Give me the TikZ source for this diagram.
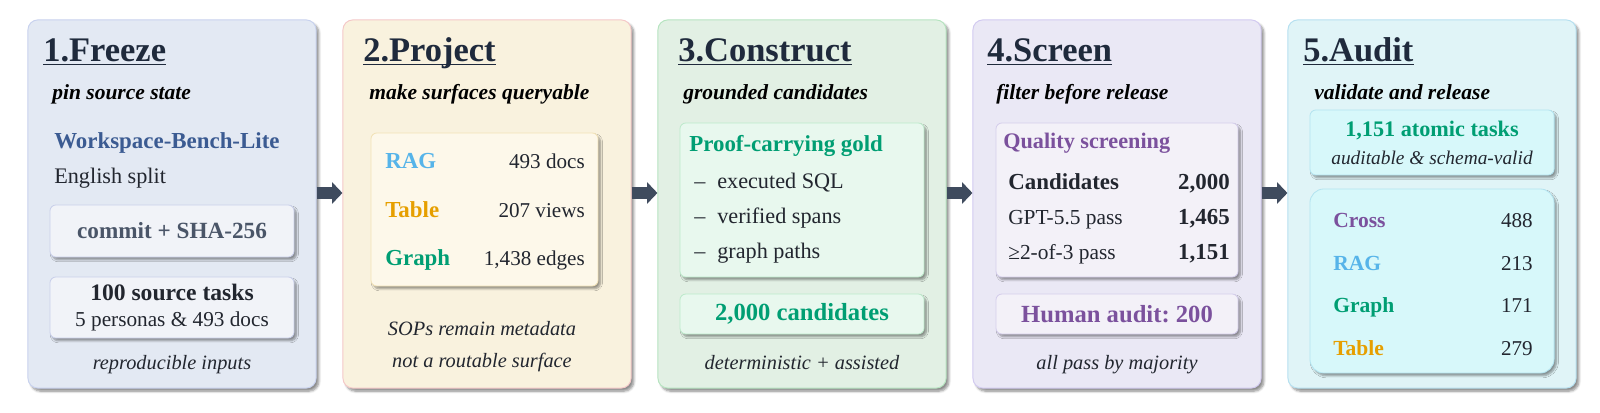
\documentclass[tikz,border=0pt]{standalone}
\usepackage{fontspec}
\setmainfont{Liberation Serif}
\usetikzlibrary{arrows.meta,shadows.blur}

\definecolor{ttlc}{HTML}{1F2A3C}
\definecolor{ink}{HTML}{22262F}
\definecolor{slate}{HTML}{4A5568}
\definecolor{wsblue}{HTML}{3B5B92}
\definecolor{ragc}{HTML}{56B4E9}
\definecolor{tabc}{HTML}{E69F00}
\definecolor{grc}{HTML}{009E73}
\definecolor{purc}{HTML}{7B519D}
\definecolor{arrc}{HTML}{3F4B5E}
% panel fills and lines
\definecolor{fzfill}{HTML}{E3E9F3}\definecolor{fzline}{HTML}{C8D2EE}
\definecolor{pjfill}{HTML}{F9F2DE}\definecolor{pjline}{HTML}{F4C8C8}
\definecolor{cofill}{HTML}{E2F0E4}\definecolor{coline}{HTML}{B6E4C0}
\definecolor{scfill}{HTML}{EAE8F5}\definecolor{scline}{HTML}{D2CAF0}
\definecolor{aufill}{HTML}{E0F4F7}\definecolor{auline}{HTML}{B6E0F0}
% card fills and lines
\definecolor{fzcard}{HTML}{F1F3F8}\definecolor{fzcline}{HTML}{C9CFEA}
\definecolor{pjcard}{HTML}{FDF8EA}\definecolor{pjcline}{HTML}{F2E2B6}
\definecolor{cocard}{HTML}{E8F8EE}\definecolor{cocline}{HTML}{BDEACB}
\definecolor{sccard}{HTML}{F3F1F8}\definecolor{sccline}{HTML}{D4CDEB}
\definecolor{aucard}{HTML}{D7F8FA}\definecolor{aucline}{HTML}{B4E4F0}

\tikzset{
  panel/.style={rounded corners=0.1in, line width=0.7pt, minimum width=2.88in,
    minimum height=3.68in, inner sep=0pt,
    blur shadow={shadow xshift=0.7mm, shadow yshift=-0.8mm, shadow blur radius=0.6mm,
      shadow blur steps=6, shadow opacity=45}},
  card/.style={rounded corners=0.06in, line width=0.6pt, inner sep=0pt, align=center,
    blur shadow={shadow xshift=0.6mm, shadow yshift=-0.7mm, shadow blur radius=0.5mm,
      shadow blur steps=6, shadow opacity=40}},
  ttl/.style={font=\fontsize{24.9}{28}\selectfont\bfseries, text=ttlc, inner sep=0pt, anchor=base west},
  sub/.style={font=\fontsize{15.55}{18}\selectfont\bfseries\itshape, inner sep=0pt, anchor=base west},
  foot/.style={font=\fontsize{14.7}{17}\selectfont\itshape, text=ink, inner sep=0pt, anchor=base},
  lbl/.style={font=\fontsize{16.55}{19}\selectfont\bfseries, inner sep=0pt, anchor=base west},
  txt/.style={font=\fontsize{16.05}{19}\selectfont, text=ink, inner sep=0pt, anchor=base west},
  val/.style={font=\fontsize{15.25}{18}\selectfont, text=ink, inner sep=0pt, anchor=base east},
  bval/.style={font=\fontsize{16.55}{19}\selectfont\bfseries, text=ink, inner sep=0pt, anchor=base east},
  uline/.style={line width=0.8pt, ttlc},
  flow/.style={arrc, line width=0.12in, -{Triangle[length=0.104in, width=0.212in]}}
}

\begin{document}
\frenchspacing
\begin{tikzpicture}[x=0.01in,y=-0.01in]

% five stage panels
\foreach \i/\cx/\fc/\dc in {1/172/fzfill/fzline, 2/487/pjfill/pjline, 3/802/cofill/coline,
    4/1117/scfill/scline, 5/1432/aufill/auline}
  \node[panel, fill=\fc, draw=\dc] (p\i) at (\cx,204) {};

% arrows between stages
\foreach \i/\j in {1/2,2/3,3/4,4/5}
  \draw[flow] (p\i.east |- 0,193) -- (p\j.west |- 0,193);

% titles and subtitles
\node[ttl] (t1) at (43,62) {1.Freeze};
\node[ttl] (t2) at (363,62) {2.Project};
\node[ttl] (t3) at (678,62) {3.Construct};
\node[ttl] (t4) at (987,62) {4.Screen};
\node[ttl] (t5) at (1303,62) {5.Audit};
\foreach \i in {1,...,5}
  \draw[uline] ([yshift=-1.6pt]t\i.base west) -- ([yshift=-1.6pt]t\i.base east);

\node[sub] (s1) at (52,100) {pin source state};
\node[sub] (s2) at (369,100) {make surfaces queryable};
\node[sub] (s3) at (683,100) {grounded candidates};
\node[sub] (s4) at (996,100) {filter before release};
\node[sub] (s5) at (1314,100) {validate and release};

% 1. Freeze
\node[lbl, text=wsblue] (ws) at (54,148) {Workspace-Bench-Lite};
\node[txt] (en) at (54,183) {English split};
\node[card, fill=fzcard, draw=fzcline, minimum width=2.44in, minimum height=0.52in,
  font=\fontsize{16.75}{19}\selectfont\bfseries, text=slate] (sha) at (172,231) {commit + SHA-256};
\node[card, fill=fzcard, draw=fzcline, minimum width=2.44in, minimum height=0.61in,
  font=\fontsize{15.35}{18.8}\selectfont, text=ink] (src) at (172,307.5)
  {{\fontsize{17.05}{18.8}\selectfont\bfseries 100 source tasks}\\5 personas \& 493 docs};
\node[foot] (f1) at (172,369) {reproducible inputs};

% 2. Project
\node[card, fill=pjcard, draw=pjcline, minimum width=2.27in, minimum height=1.53in] (surf) at (484.5,209.5) {};
\node[lbl, text=ragc] (prag) at (385,168) {RAG};
\node[lbl, text=tabc] (ptab) at (385,217) {Table};
\node[lbl, text=grc] (pgr) at (385,265) {Graph};
\node[val] (vrag) at (585,168) {493 docs};
\node[val] (vtab) at (585,217) {207 views};
\node[val] (vgr) at (585,265) {1,438 edges};
\node[foot] (f2a) at (482,335) {SOPs remain metadata};
\node[foot] (f2b) at (482,367) {not a routable surface};

% 3. Construct
\node[card, fill=cocard, draw=cocline, minimum width=2.44in, minimum height=1.54in] (gold) at (802,200) {};
\node[lbl, text=grc] (pcg) at (689,152) {Proof-carrying gold};
\foreach \y/\t [count=\k] in {188/executed SQL, 223/verified spans, 258/graph paths} {
  \node[txt] (d\k) at (694,\y) {--};
  \node[txt] (g\k) at (717,\y) {\t};
}
\node[card, fill=cocard, draw=cocline, minimum width=2.44in, minimum height=0.4in,
  font=\fontsize{17.8}{20}\selectfont\bfseries, text=grc] (cand) at (802,314) {2,000 candidates};
\node[foot] (f3) at (802,369) {deterministic + assisted};

% 4. Screen
\node[card, fill=sccard, draw=sccline, minimum width=2.42in, minimum height=1.54in] (qs) at (1117,200) {};
\node[lbl, text=purc, font=\fontsize{16.05}{19}\selectfont\bfseries] (qst) at (1003,148) {Quality screening};
\node[lbl, text=ink] (c1) at (1008,189) {Candidates};
\node[txt, font=\fontsize{15.45}{18}\selectfont] (c2) at (1008,224) {GPT-5.5 pass};
\node[txt, font=\fontsize{15.45}{18}\selectfont] (c3) at (1008,259) {≥2-of-3 pass};
\node[bval] (n1) at (1230,189) {2,000};
\node[bval] (n2) at (1230,224) {1,465};
\node[bval] (n3) at (1230,259) {1,151};
\node[card, fill=sccard, draw=sccline, minimum width=2.42in, minimum height=0.4in,
  font=\fontsize{17.8}{20}\selectfont\bfseries, text=purc] (human) at (1117,314) {Human audit: 200};
\node[foot] (f4) at (1117,369) {all pass by majority};

% 5. Audit
\node[card, fill=aucard, draw=aucline, minimum width=2.44in, minimum height=0.65in,
  font=\fontsize{14}{20.2}\selectfont\itshape, text=ink] (atom) at (1432,142.5)
  {{\fontsize{16.05}{20.2}\selectfont\bfseries\upshape\color{grc}1,151 atomic tasks}\\auditable \& schema-valid};
\node[card, fill=aucard, draw=aucline, rounded corners=0.14in, minimum width=2.44in,
  minimum height=1.84in] (split) at (1432,281) {};
\foreach \y/\t/\c/\v [count=\k] in {227/Cross/purc/488, 270/RAG/ragc/213, 312/Graph/grc/171, 355/Table/tabc/279} {
  \node[lbl, text=\c, font=\fontsize{15.55}{18}\selectfont\bfseries] (a\k) at (1333,\y) {\t};
  \node[val] (av\k) at (1533,\y) {\v};
}

\pgfresetboundingbox
\useasboundingbox (0,0) rectangle (1600,413);
\end{tikzpicture}
\end{document}
